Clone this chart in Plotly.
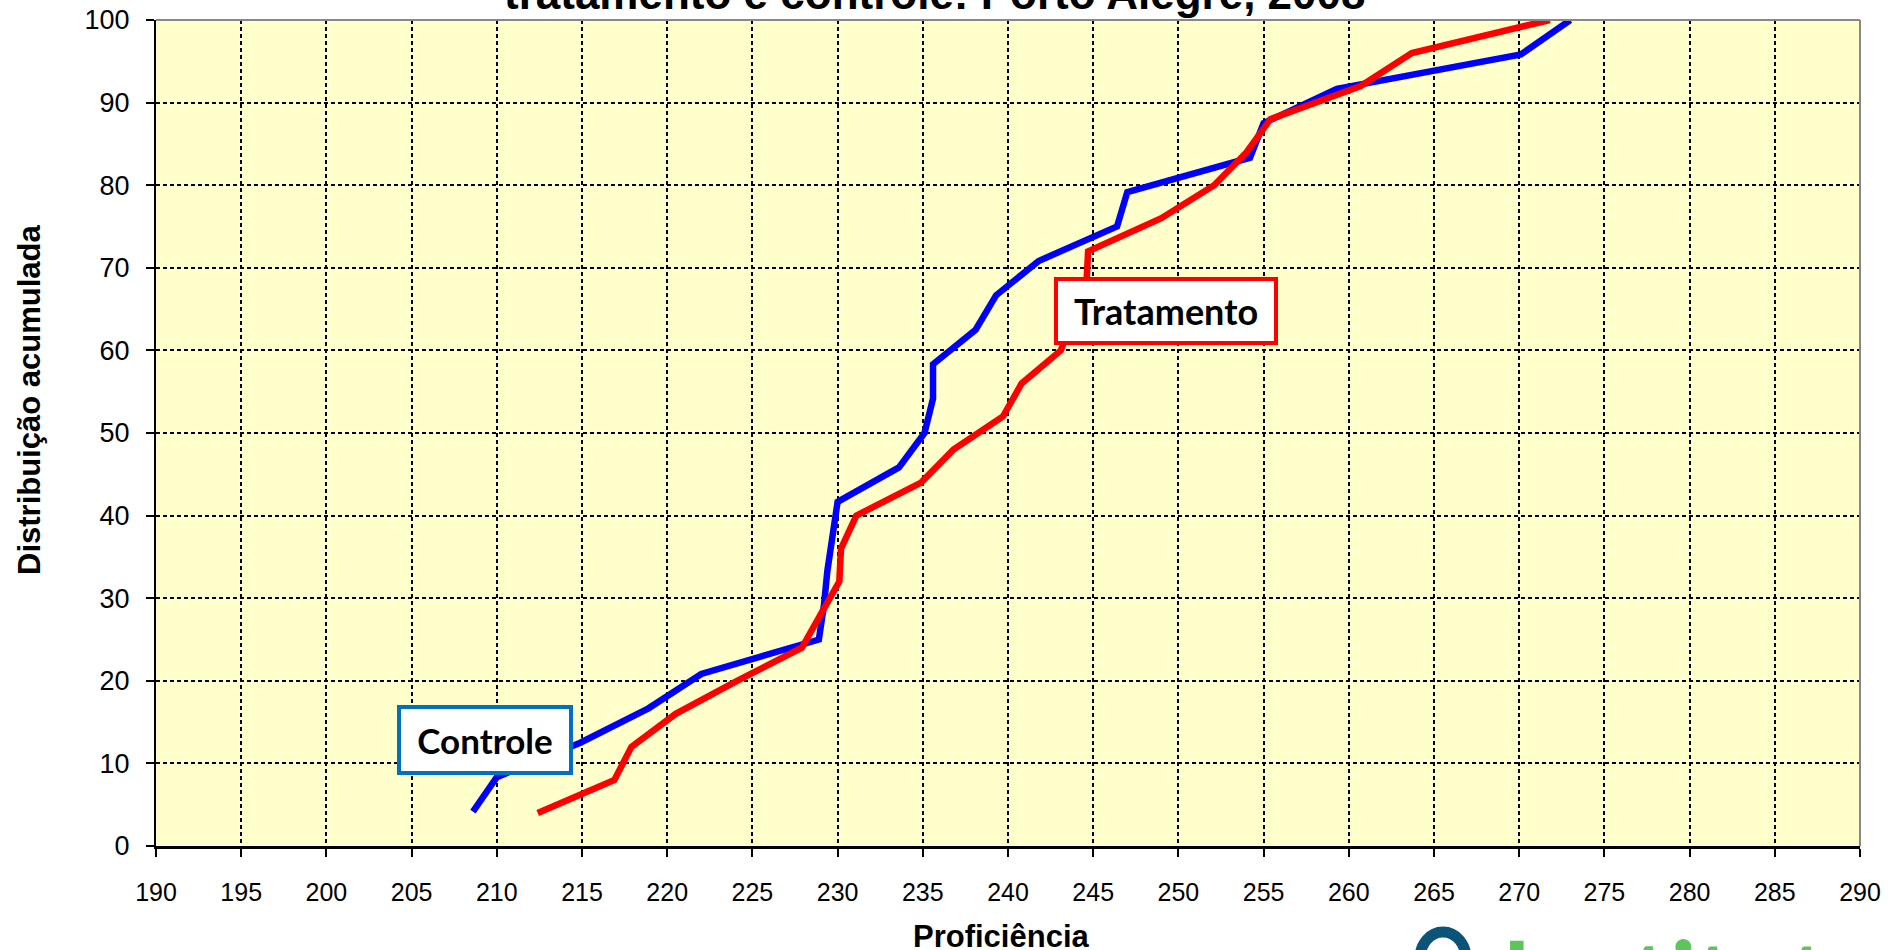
import plotly.graph_objects as go

# ---- data ----
controle_x = [208.6, 210.0, 214.9, 218.9, 222.0, 228.9, 229.2, 229.4, 229.7, 230.0,
              233.6, 235.1, 235.6, 235.6, 238.1, 239.3, 241.8, 246.4, 247.0, 254.2,
              255.0, 259.3, 270.1, 273.0]
controle_y = [4.17, 8.33, 12.5, 16.67, 20.83, 25.0, 29.17, 33.33, 37.5, 41.67,
              45.83, 50.0, 54.17, 58.33, 62.5, 66.67, 70.83, 75.0, 79.17, 83.33,
              87.5, 91.67, 95.83, 100.0]
tratamento_x = [212.4, 216.9, 217.9, 220.5, 224.1, 227.9, 229.0, 230.1, 230.2, 231.1,
                234.9, 236.8, 239.7, 240.8, 243.1, 243.9, 244.6, 244.7, 249.0, 252.1,
                254.0, 255.4, 260.7, 263.7, 271.8]
tratamento_y = [4, 8, 12, 16, 20, 24, 28, 32, 36, 40, 44, 48, 52, 56, 60, 64, 68, 72,
                76, 80, 84, 88, 92, 96, 100]

title_text = "tratamento e controle: Porto Alegre, 2008"
x_title = "Proficiência"
y_title = "Distribuição acumulada"
x_range = [190, 290]
y_range = [0, 100]

# ---- layout geometry ----
W, H = 1888, 950
ML, MR, MT, MB = 156, 28, 20, 104
PW, PH = W - ML - MR, H - MT - MB


def px(xp):
    return (xp - ML) / PW


def py(yp):
    return (H - MB - yp) / PH


AX_FONT = "Liberation Sans, Arial, sans-serif"
LBL_FONT = "Lato, Open Sans, sans-serif"

fig = go.Figure()
fig.add_trace(go.Scatter(x=controle_x, y=controle_y, mode="lines", name="Controle",
                         line=dict(color="#0000FF", width=6.5)))
fig.add_trace(go.Scatter(x=tratamento_x, y=tratamento_y, mode="lines", name="Tratamento",
                         line=dict(color="#FF0000", width=6.5)))

axis_common = dict(
    showgrid=True, gridcolor="black", gridwidth=1.5, griddash="4px,3px",
    showline=True, linecolor="black", ticks="outside", ticklen=8, tickwidth=1.5,
    tickcolor="black", zeroline=False, color="black", automargin=False,
)

fig.update_xaxes(range=x_range, tick0=190, dtick=5, linewidth=3,
                 tickfont=dict(family=AX_FONT, size=25, color="black"),
                 ticklabelstandoff=14, **axis_common)
fig.update_yaxes(range=y_range, tick0=0, dtick=10, linewidth=2,
                 tickfont=dict(family=AX_FONT, size=27, color="black"),
                 ticklabelstandoff=11, **axis_common)

annotations = [
    dict(text="<b>" + title_text + "</b>", xref="paper", yref="paper",
         x=px(934.5), y=py(-6), xanchor="center", yanchor="middle", showarrow=False,
         font=dict(family=AX_FONT, size=44, color="black")),
    dict(text="<b>" + x_title + "</b>", xref="paper", yref="paper",
         x=px(1000.5), y=py(936), xanchor="center", yanchor="middle", showarrow=False,
         font=dict(family=AX_FONT, size=31, color="black")),
    dict(text="<b>" + y_title + "</b>", xref="paper", yref="paper",
         x=px(29), y=py(400), xanchor="center", yanchor="middle", showarrow=False,
         textangle=-90, font=dict(family=AX_FONT, size=31, color="black")),
    dict(text="<b>Controle</b>", x=209.29, y=12.83, xref="x", yref="y",
         showarrow=False, xanchor="center", yanchor="middle",
         width=168, height=62, bgcolor="white", bordercolor="#0070C0",
         borderwidth=4, borderpad=0, align="center", valign="middle",
         font=dict(family=LBL_FONT, size=35, color="black")),
    dict(text="<b>Tratamento</b>", x=249.27, y=64.74, xref="x", yref="y",
         showarrow=False, xanchor="center", yanchor="middle",
         width=216, height=60, bgcolor="white", bordercolor="#FF0000",
         borderwidth=4, borderpad=0, align="center", valign="middle",
         font=dict(family=LBL_FONT, size=36, color="black")),
    # partially visible logo at bottom right
    dict(text="<b>Instituto</b>", xref="paper", yref="paper",
         x=px(1500), y=py(912), xanchor="left", yanchor="top", showarrow=False,
         font=dict(family=LBL_FONT, size=100, color="#5CC65A")),
]

shapes = [
    dict(type="line", xref="paper", yref="paper", x0=0, x1=1, y0=1, y1=1,
         line=dict(color="#888888", width=2), layer="above"),
    dict(type="line", xref="paper", yref="paper", x0=1, x1=1, y0=0, y1=1,
         line=dict(color="#888888", width=2), layer="above"),
    dict(type="circle", xref="paper", yref="paper", x0=px(1420), x1=px(1466),
         y0=py(985), y1=py(932), line=dict(color="#0B5378", width=11)),
]

fig.update_layout(
    width=W, height=H, autosize=False,
    margin=dict(l=ML, r=MR, t=MT, b=MB, pad=0),
    paper_bgcolor="white", plot_bgcolor="#FFFFCC",
    showlegend=False, annotations=annotations, shapes=shapes,
)

fig.write_html("out.html", config={"displayModeBar": False},
               post_script="document.body.style.margin='0';document.body.style.overflow='hidden';")
